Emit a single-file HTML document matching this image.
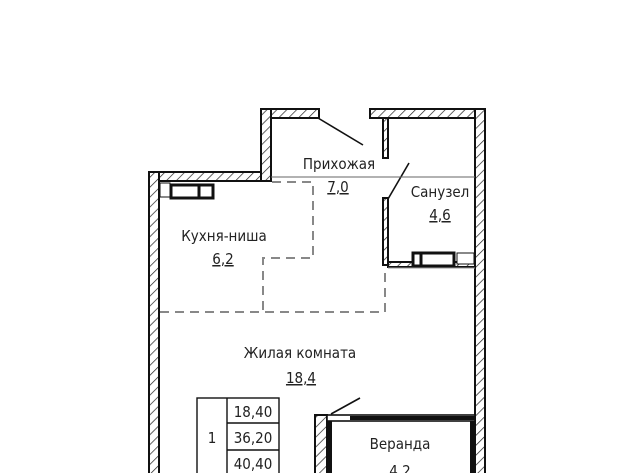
<!DOCTYPE html>
<html><head><meta charset="utf-8"><style>
html,body{margin:0;padding:0;background:#fff;}
svg{display:block;}
text{font-family:"DejaVu Sans Condensed","DejaVu Sans","Liberation Sans",sans-serif;font-size:15px;fill:#222;text-anchor:middle;}
</style></head><body>
<svg width="640" height="473" viewBox="0 0 640 473" xmlns="http://www.w3.org/2000/svg">
<defs>
<pattern id="h" width="7" height="7" patternUnits="userSpaceOnUse" patternTransform="rotate(45)">
<rect width="7" height="7" fill="#fff"/><line x1="0" y1="0" x2="0" y2="7" stroke="#222" stroke-width="1.4"/>
</pattern>
</defs>
<g stroke="#111" stroke-width="2" fill="url(#h)">
<rect x="149" y="172" width="10" height="305"/>
<rect x="159" y="172" width="112" height="9"/>
<rect x="261" y="109" width="10" height="72"/>
<rect x="271" y="109" width="48" height="9"/>
<rect x="370" y="109" width="105" height="9"/>
<rect x="475" y="109" width="10" height="370"/>
<rect x="383" y="118" width="5" height="40"/>
<rect x="383" y="198" width="5" height="67"/>
<rect x="388" y="262" width="87" height="5"/>
<rect x="315" y="415" width="12" height="62"/>
</g>
<g fill="#fff" stroke="#111">
<rect x="171" y="185" width="42" height="13" stroke-width="3"/>
<line x1="199" y1="185" x2="199" y2="198" stroke-width="3"/>
<rect x="160" y="183" width="10" height="14" stroke-width="1"/>
<rect x="413" y="253" width="41" height="13" stroke-width="3"/>
<line x1="421" y1="253" x2="421" y2="266" stroke-width="3"/>
<rect x="457" y="253" width="17" height="11" stroke-width="1"/>
</g>
<g stroke="#111" stroke-width="1.6">
<line x1="318" y1="118" x2="363" y2="145"/>
<line x1="388" y1="199" x2="409" y2="163"/>
<line x1="331" y1="414" x2="360" y2="398"/>
</g>
<line x1="271" y1="177" x2="475" y2="177" stroke="#666" stroke-width="1"/>
<line x1="388" y1="268" x2="475" y2="268" stroke="#999" stroke-width="1"/>
<g stroke="#111" fill="none">
<rect x="327" y="415" width="148" height="6" stroke-width="1.6" fill="#fff"/>
<line x1="350" y1="418" x2="475" y2="418" stroke-width="4"/>
<line x1="330" y1="421" x2="330" y2="473" stroke-width="4"/>
<line x1="472" y1="421" x2="472" y2="473" stroke-width="4"/>
</g>
<g stroke="#888" stroke-width="2" fill="none" stroke-dasharray="9,6">
<polyline points="272,182 313,182 313,258 263,258 263,312"/>
<line x1="160" y1="312" x2="385" y2="312"/>
<line x1="385" y1="312" x2="385" y2="268"/>
</g>
<g stroke="#111" stroke-width="1.4" fill="none">
<rect x="197" y="398" width="82" height="80"/>
<line x1="227" y1="398" x2="227" y2="473"/>
<line x1="227" y1="423" x2="279" y2="423"/>
<line x1="227" y1="450" x2="279" y2="450"/>
</g>
<text x="253" y="417">18,40</text>
<text x="253" y="443">36,20</text>
<text x="253" y="469">40,40</text>
<text x="212" y="443">1</text>
<text x="339" y="169">Прихожая</text>
<text x="338" y="192" text-decoration="underline">7,0</text>
<text x="440" y="197">Санузел</text>
<text x="440" y="220" text-decoration="underline">4,6</text>
<text x="224" y="241">Кухня-ниша</text>
<text x="223" y="264" text-decoration="underline">6,2</text>
<text x="300" y="358">Жилая комната</text>
<text x="301" y="383" text-decoration="underline">18,4</text>
<text x="400" y="449">Веранда</text>
<text x="400" y="476">4,2</text>
</svg>
</body></html>
